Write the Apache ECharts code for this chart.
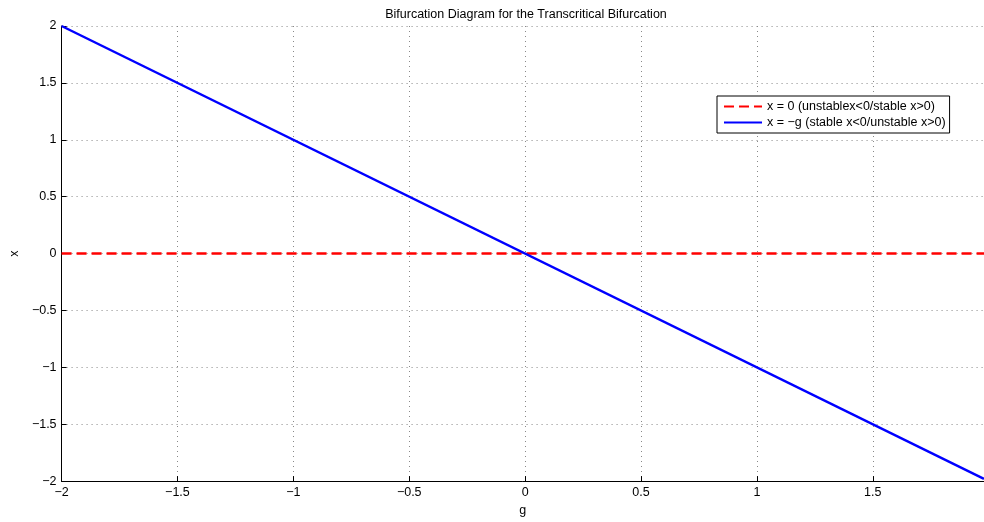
<!DOCTYPE html>
<html>
<head>
<meta charset="utf-8">
<script src="https://cdn.jsdelivr.net/npm/echarts@6/dist/echarts.min.js"></script>
<style>
  html, body { margin: 0; padding: 0; background: #fff; }
  #chart { width: 984px; height: 522px; }
</style>
</head>
<body>
<div id="chart"></div>
<script>
// g range (axis is tight to the data)
const gValues = [-2, 1.98];
const zeroBranch = [0, 0];
const negBranch = [2, -1.98];
const xTicks = [-2, -1.5, -1, -0.5, 0, 0.5, 1, 1.5];
const yTicks = [-2, -1.5, -1, -0.5, 0, 0.5, 1, 1.5, 2];

const font = 'Liberation Sans, Arial, Helvetica, sans-serif';
const fs = 12.5;
const fmt = (v) => String(v).replace('-', '\u2212');

const chart = echarts.init(document.getElementById('chart'), null, { renderer: 'canvas' });

chart.setOption({
  animation: false,
  backgroundColor: '#fff',
  title: {
    text: 'Bifurcation Diagram for the Transcritical Bifurcation',
    left: 521,
    textAlign: 'center',
    top: 3,
    textStyle: { fontFamily: font, fontSize: fs, fontWeight: 'normal', color: '#000' },
  },
  grid: { left: 54, right: 0, top: 26, bottom: 33, containLabel: false },
  legend: {
    orient: 'vertical',
    left: 717,
    top: 96,
    backgroundColor: '#fff',
    borderColor: '#000',
    borderWidth: 1,
    borderRadius: 0,
    padding: [4, 4, 4, 6],
    itemGap: 3,
    itemWidth: 38,
    itemHeight: 12,
    itemStyle: { opacity: 0 },
    textStyle: { fontFamily: font, fontSize: fs, color: '#000' },
    data: [
      'x = 0 (unstablex<0/stable x>0)',
      'x = \u2212g (stable x<0/unstable x>0)',
    ],
  },
  xAxis: {
    type: 'value',
    min: -2,
    max: 1.98,
    interval: 0.5,
    name: 'g',
    nameLocation: 'middle',
    nameGap: 21,
    nameTextStyle: { fontFamily: font, fontSize: fs, color: '#000' },
    axisLine: { show: true, onZero: false, lineStyle: { color: '#000', width: 1 } },
    axisTick: { show: true, inside: true, length: 5, lineStyle: { color: '#000' } },
    axisLabel: {
      fontFamily: font, fontSize: fs, color: '#000', margin: 5,
      showMaxLabel: false,
      formatter: (v) => (xTicks.includes(v) ? fmt(v) : ''),
    },
    splitLine: { show: true, lineStyle: { color: '#888', type: [1, 4], width: 1 } },
  },
  yAxis: {
    type: 'value',
    min: -2,
    max: 2,
    interval: 0.5,
    name: 'x',
    nameLocation: 'middle',
    nameGap: 40,
    nameTextStyle: { fontFamily: font, fontSize: fs, color: '#000' },
    axisLine: { show: true, onZero: false, lineStyle: { color: '#000', width: 1 } },
    axisTick: { show: true, inside: true, length: 5, lineStyle: { color: '#000' } },
    axisLabel: {
      fontFamily: font, fontSize: fs, color: '#000', margin: 5,
      formatter: (v) => (yTicks.includes(v) ? fmt(v) : ''),
    },
    splitLine: { show: true, lineStyle: { color: '#888', type: [1, 4], width: 1 } },
  },
  series: [
    {
      name: 'x = 0 (unstablex<0/stable x>0)',
      type: 'line',
      symbol: 'none',
      data: gValues.map((g, i) => [g, zeroBranch[i]]),
      lineStyle: { color: '#ff0000', width: 2.5, type: [10, 5] },
      itemStyle: { color: '#ff0000' },
    },
    {
      name: 'x = \u2212g (stable x<0/unstable x>0)',
      type: 'line',
      symbol: 'none',
      data: gValues.map((g, i) => [g, negBranch[i]]),
      lineStyle: { color: '#0000ff', width: 2.5 },
      itemStyle: { color: '#0000ff' },
    },
  ],
});
</script>
</body>
</html>
